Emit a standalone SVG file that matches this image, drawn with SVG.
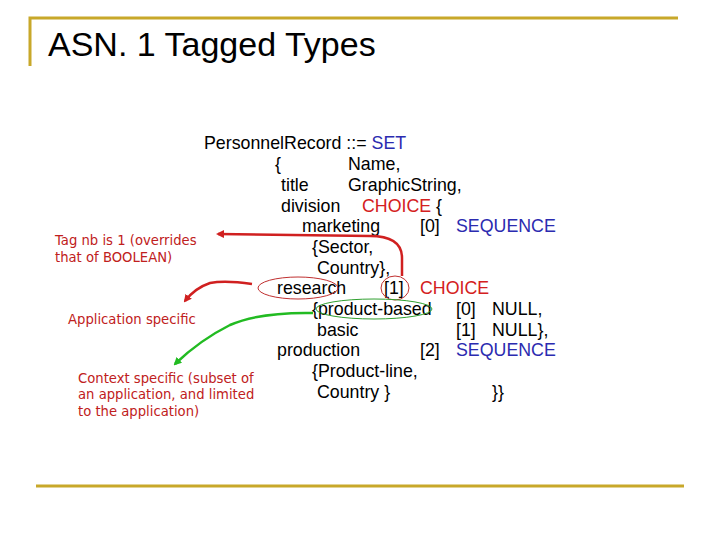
<svg xmlns="http://www.w3.org/2000/svg" width="720" height="540" viewBox="0 0 720 540">
<defs>
<style>
.c{font-family:"Liberation Sans",Arial,sans-serif;font-size:17.8px;fill:#000}
.b{fill:#2b2bb0}.r{fill:#d42020}
.n{font-family:"DejaVu Sans",sans-serif;font-size:13.2px;fill:#c02020}
.frame{stroke:#c8a82a;stroke-width:3;fill:none}
</style>
<marker id="ar" markerWidth="8" markerHeight="8" refX="6" refY="4" orient="auto" markerUnits="userSpaceOnUse"><path d="M0,0L8,4L0,8z" fill="#d02020"/></marker>
<marker id="ag" markerWidth="8" markerHeight="8" refX="6" refY="4" orient="auto" markerUnits="userSpaceOnUse"><path d="M0,0L8,4L0,8z" fill="#22bb22"/></marker>
</defs>
<rect width="720" height="540" fill="#fff"/>
<path class="frame" d="M30,66V18H678"/>
<path class="frame" d="M36,486H684"/>
<text x="48" y="56" font-family="Liberation Sans,Arial,sans-serif" font-size="34">ASN. 1 Tagged Types</text>
<g id="code" class="c">
<text x="204" y="149">PersonnelRecord ::= <tspan class="b">SET</tspan></text>
<text x="275" y="170">{</text><text x="348" y="170">Name,</text>
<text x="281" y="191">title</text><text x="348" y="191">GraphicString,</text>
<text x="281" y="212">division</text><text x="362" y="212"><tspan class="r">CHOICE</tspan> {</text>
<text x="302" y="232">marketing</text><text x="420" y="232">[0]</text><text x="456" y="232" class="b">SEQUENCE</text>
<text x="312" y="253">{Sector,</text>
<text x="317" y="274">Country},</text>
<text x="277" y="294">research</text><text x="384" y="294">[1]</text><text x="420" y="294" class="r">CHOICE</text>
<text x="312" y="315">{product-based</text><text x="456" y="315">[0]</text><text x="492" y="315">NULL,</text>
<text x="317" y="336">basic</text><text x="456" y="336">[1]</text><text x="492" y="336">NULL},</text>
<text x="277" y="356">production</text><text x="420" y="356">[2]</text><text x="456" y="356" class="b">SEQUENCE</text>
<text x="312" y="377">{Product-line,</text>
<text x="317" y="398">Country }</text><text x="492" y="398">}}</text>
</g>
<g id="marks" fill="none">
<ellipse cx="298" cy="288" rx="40" ry="11" stroke="#c03030" stroke-width="1"/>
<ellipse cx="395" cy="288" rx="14" ry="12" stroke="#c03030" stroke-width="1"/>
<ellipse cx="374" cy="309" rx="58" ry="10" stroke="#30a030" stroke-width="1"/>
</g>
<g id="connectors" fill="none" stroke-width="2.5">
<path d="M402,276V258Q402,236 370,236L218,234" stroke="#d02020" marker-end="url(#ar)"/>
<path d="M252,284Q225,280 210,283Q195,288 185,301" stroke="#d02020" marker-end="url(#ar)"/>
<path d="M313,313Q260,312 230,325Q200,340 175,364" stroke="#22bb22" marker-end="url(#ag)"/>
</g>
<g id="notes" class="n">
<text x="55" y="245">Tag nb is 1 (overrides</text>
<text x="55" y="262">that of BOOLEAN)</text>
<text x="68" y="324">Application specific</text>
<text x="78" y="383">Context specific (subset of</text>
<text x="78" y="399">an application, and limited</text>
<text x="78" y="416">to the application)</text>
</g>
</svg>
